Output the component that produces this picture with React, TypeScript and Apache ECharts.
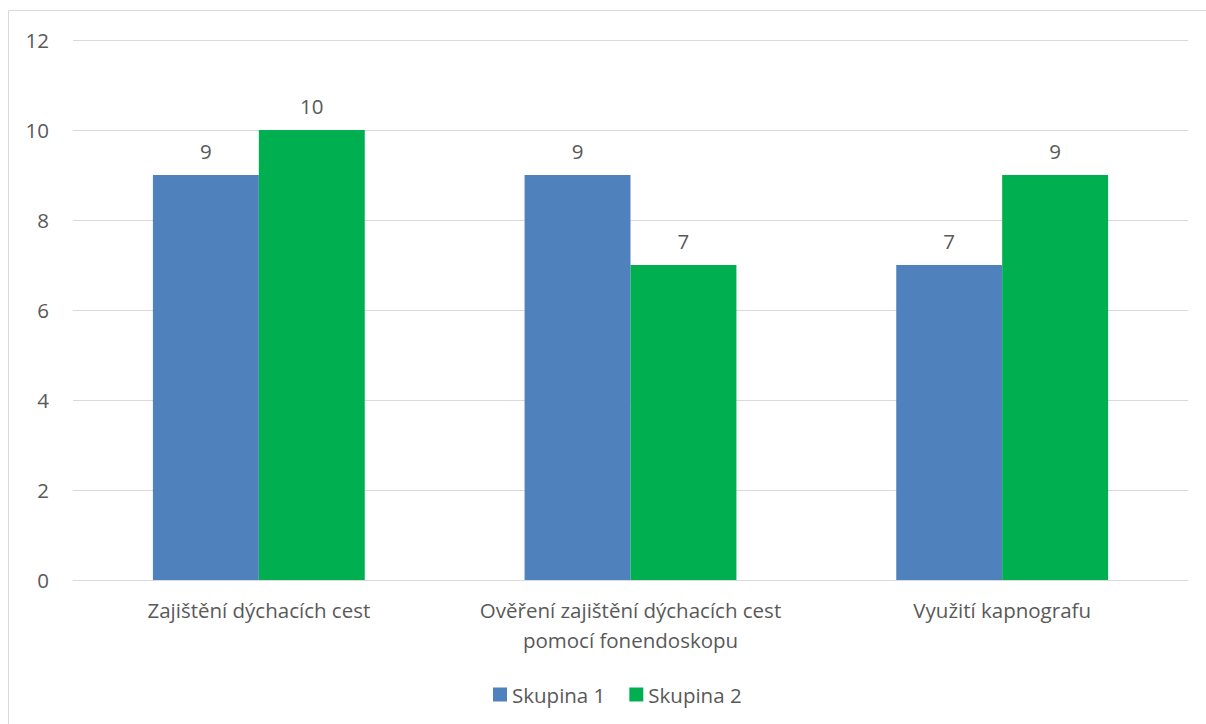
import React, { useEffect, useRef } from "react";
import * as echarts from "echarts";

const categories = [
  "Zajištění dýchacích cest",
  "Ověření zajištění dýchacích cest\npomocí fonendoskopu",
  "Využití kapnografu",
];
const group1 = [9, 9, 7];
const group2 = [10, 7, 9];
const seriesNames = ["Skupina 1", "Skupina 2"];

const FONT = "'Open Sans', 'Noto Sans', sans-serif";
const TEXT = "#595959";
const FS = 20.5;

export default function App() {
  const ref = useRef<HTMLDivElement>(null);

  useEffect(() => {
    if (!ref.current) return;
    const chart = echarts.init(ref.current, undefined, { renderer: "svg" });
    const label = {
      show: true,
      position: "top" as const,
      distance: 14,
      color: TEXT,
      fontSize: FS,
      fontFamily: FONT,
    };
    chart.setOption({
      animation: false,
      backgroundColor: "#ffffff",
      textStyle: { fontFamily: FONT },
      graphic: [
        {
          type: "rect",
          shape: { x: 8.5, y: 10.5, width: 1220, height: 730 },
          style: { fill: "none", stroke: "#d9d9d9", lineWidth: 1 },
          silent: true,
        },
      ],
      grid: { left: 73, right: 18, top: 40, bottom: 144 },
      legend: {
        data: seriesNames,
        top: 679,
        left: 488,
        itemWidth: 14,
        itemHeight: 14,
        itemGap: 24,
        icon: "rect",
        textStyle: { color: TEXT, fontSize: FS, fontFamily: FONT },
      },
      xAxis: {
        type: "category",
        data: categories,
        axisLine: { lineStyle: { color: "#d9d9d9", width: 1 } },
        axisTick: { show: false },
        axisLabel: {
          color: TEXT,
          fontSize: FS,
          fontFamily: FONT,
          margin: 15,
          lineHeight: 30,
          interval: 0,
        },
      },
      yAxis: {
        type: "value",
        min: 0,
        max: 12,
        interval: 2,
        axisLine: { show: false },
        axisTick: { show: false },
        splitLine: { lineStyle: { color: "#d9d9d9", width: 1 } },
        axisLabel: { color: TEXT, fontSize: FS, fontFamily: FONT, margin: 24 },
      },
      series: [
        {
          name: seriesNames[0],
          type: "bar",
          data: group1,
          itemStyle: { color: "#4f81bd" },
          barGap: "0%",
          barCategoryGap: "43%",
          label,
        },
        {
          name: seriesNames[1],
          type: "bar",
          data: group2,
          itemStyle: { color: "#00b050" },
          barGap: "0%",
          barCategoryGap: "43%",
          label,
        },
      ],
    });
    return () => chart.dispose();
  }, []);

  return (
    <div
      ref={ref}
      style={{ position: "absolute", left: 0, top: 0, width: 1206, height: 724 }}
    />
  );
}
